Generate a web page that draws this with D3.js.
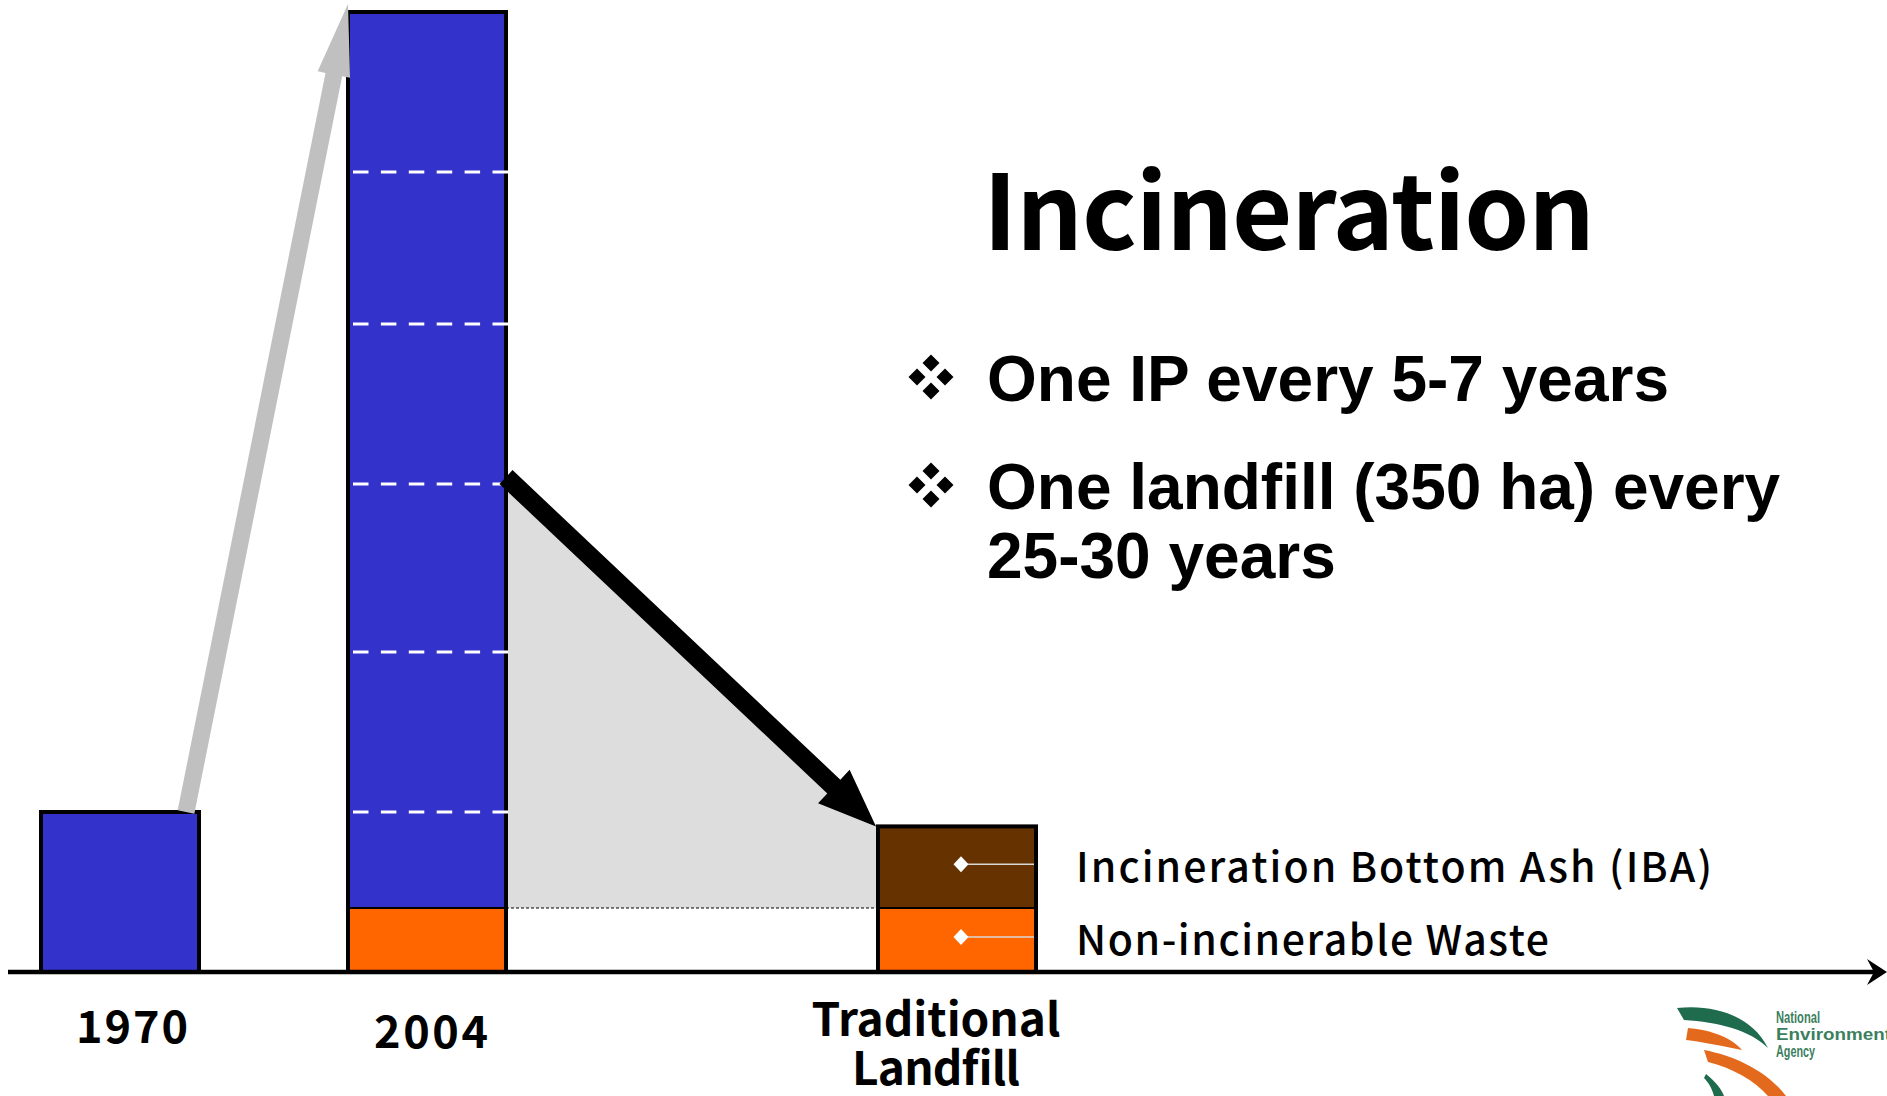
<!DOCTYPE html>
<html>
<head>
<meta charset="utf-8">
<script src="https://cdn.jsdelivr.net/npm/d3@7"></script>
<style>
  body { margin: 0; background: #fff; }
  svg { display: block; }
</style>
</head>
<body>
<div id="chart"></div>
<script>
// data (units: 1970 waste volume = 1)
var categories = ["1970", "2004", "Traditional Landfill"];
var incinerable = [1.0, 5.6, 0];
var nonIncinerable = [0, 0.4, 0.4];
var bottomAsh = [0, 0, 0.51];
var dividers = [1, 2, 3.05, 4.05, 5];   // dashed marks inside the 2004 bar
var legendLabels = ["Incineration Bottom Ash (IBA)", "Non-incinerable Waste"];
var titleText = "Incineration";
var bullets = [["One IP every 5-7 years"], ["One landfill (350 ha) every", "25-30 years"]];

var width = 1887, height = 1096;
var jp = "'Noto Sans CJK JP', 'Noto Sans', sans-serif";
var arial = "'Liberation Sans', Arial, sans-serif";
var colors = { incinerable: "#3333CC", nonIncinerable: "#FF6600", bottomAsh: "#663300" };
var keys = ["nonIncinerable", "bottomAsh", "incinerable"];

var rows = categories.map(function(c, i) {
  return { cat: c, nonIncinerable: nonIncinerable[i], bottomAsh: bottomAsh[i], incinerable: incinerable[i] };
});
var series = d3.stack().keys(keys)(rows);

var x = d3.scaleOrdinal().domain(categories).range([120, 427, 957]);
var y = d3.scaleLinear().domain([0, 6]).range([972, 12]);
var barW = 158;

var svg = d3.select("#chart").append("svg").attr("width", width).attr("height", height);

function total(i) { return d3.sum(keys, function(k) { return rows[i][k]; }); }
function left(c) { return x(c) - barW / 2; }
function right(c) { return x(c) + barW / 2; }

function arrowPath(x0, y0, x1, y1, shaft, headW, headL) {
  var dx = x1 - x0, dy = y1 - y0, L = Math.hypot(dx, dy);
  var ux = dx / L, uy = dy / L, px = -uy, py = ux;
  var bx = x1 - ux * headL, by = y1 - uy * headL, s = shaft / 2, h = headW / 2;
  var pts = [
    [x0 + px * s, y0 + py * s], [bx + px * s, by + py * s], [bx + px * h, by + py * h],
    [x1, y1],
    [bx - px * h, by - py * h], [bx - px * s, by - py * s], [x0 - px * s, y0 - py * s]
  ];
  return "M" + pts.map(function(p) { return p.join(","); }).join("L") + "Z";
}

// grey "reduction" wedge between 2004 and landfill
var c04 = categories[1], cLf = categories[2];
var wedge = [
  [right(c04), y(dividers[2])],
  [left(cLf), y(total(2))],
  [left(cLf), y(nonIncinerable[2])],
  [right(c04), y(nonIncinerable[1])]
];
svg.append("path").attr("d", d3.line()(wedge)).attr("fill", "#DDDDDD");

svg.append("line")
  .attr("x1", right(c04)).attr("x2", left(cLf))
  .attr("y1", y(nonIncinerable[1])).attr("y2", y(nonIncinerable[1]))
  .attr("stroke", "#000").attr("stroke-width", 1.2).attr("stroke-dasharray", "3,2");

// stacked segments
svg.append("g").selectAll("g")
  .data(series)
  .enter().append("g")
    .attr("fill", function(d) { return colors[d.key]; })
  .selectAll("rect")
  .data(function(d) { return d.filter(function(v) { return v[1] > v[0]; }); })
  .enter().append("rect")
    .attr("x", function(d) { return left(d.data.cat); })
    .attr("width", barW)
    .attr("y", function(d) { return y(d[1]); })
    .attr("height", function(d) { return y(d[0]) - y(d[1]); })
    .attr("stroke", "#000").attr("stroke-width", 2);

// outline of each bar
svg.append("g").selectAll("rect")
  .data(categories)
  .enter().append("rect")
    .attr("x", function(c) { return left(c); })
    .attr("width", barW)
    .attr("y", function(c, i) { return y(total(i)); })
    .attr("height", function(c, i) { return y(0) - y(total(i)); })
    .attr("fill", "none").attr("stroke", "#000").attr("stroke-width", 4);

// dashed white marks
svg.append("g").selectAll("line")
  .data(dividers)
  .enter().append("line")
    .attr("x1", left(c04) + 5).attr("x2", right(c04) + 2)
    .attr("y1", function(d) { return y(d); }).attr("y2", function(d) { return y(d); })
    .attr("stroke", "#fff").attr("stroke-width", 3).attr("stroke-dasharray", "15.5,12.4");

// grey growth arrow 1970 -> 2004
var c70 = categories[0];
svg.append("path")
  .attr("d", arrowPath(right(c70) - 13, y(total(0)), left(c04), y(total(1)) - 8, 17, 33, 72))
  .attr("fill", "#C0C0C0");

// black reduction arrow 2004 -> landfill
svg.append("path")
  .attr("d", arrowPath(right(c04), y(dividers[2]) - 7, left(cLf) - 2, y(total(2)), 19, 46, 58))
  .attr("fill", "#000");

// x axis with arrow
svg.append("line").attr("x1", 8).attr("x2", 1874).attr("y1", y(0)).attr("y2", y(0))
  .attr("stroke", "#000").attr("stroke-width", 4.5);
svg.append("path")
  .attr("d", "M1887," + y(0) + "L1867," + (y(0) - 13) + "L1874," + y(0) + "L1867," + (y(0) + 13) + "Z")
  .attr("fill", "#000");

// legend markers inside landfill bar
var legendY = [(y(nonIncinerable[2]) + y(total(2))) / 2 - 3, (y(0) + y(nonIncinerable[2])) / 2 - 3];
var lg = svg.append("g");
lg.selectAll("line").data(legendY).enter().append("line")
  .attr("x1", x(cLf) + 4).attr("x2", right(cLf) - 2)
  .attr("y1", function(d) { return d; }).attr("y2", function(d) { return d; })
  .attr("stroke", "#D8D8D8").attr("stroke-width", 1.5);
lg.selectAll("path").data(legendY).enter().append("path")
  .attr("d", function(d) {
    var cx = x(cLf) + 4;
    return "M" + cx + "," + (d - 8) + "L" + (cx + 7.5) + "," + d + "L" + cx + "," + (d + 8) + "L" + (cx - 7.5) + "," + d + "Z";
  })
  .attr("fill", "#fff");
lg.selectAll("text").data(legendLabels).enter().append("text")
  .attr("x", 1076)
  .attr("y", function(d, i) { return legendY[i] + 18; })
  .attr("font-family", jp).attr("font-size", 41).attr("font-weight", 500)
  .attr("textLength", function(d, i) { return [636, 473][i]; })
  .attr("lengthAdjust", "spacing")
  .text(function(d) { return d; });

// category labels
var labelDx = [12, 4, -21];
var labelLines = [["1970"], ["2004"], ["Traditional", "Landfill"]];
var labelY = [[1043], [1048], [1036], [1085]];
labelY = [[1043], [1048], [1036, 1085]];
var labelLen = [[112], [114], [249, 168]];
var labelSize = [45, 45, 46];
categories.forEach(function(c, i) {
  labelLines[i].forEach(function(t, j) {
    svg.append("text")
      .attr("x", x(c) + labelDx[i]).attr("y", labelY[i][j])
      .attr("text-anchor", "middle")
      .attr("font-family", jp).attr("font-size", labelSize[i]).attr("font-weight", 700)
      .attr("textLength", labelLen[i][j]).attr("lengthAdjust", "spacing")
      .text(t);
  });
});

// title
svg.append("text")
  .attr("x", 983).attr("y", 250)
  .attr("font-family", jp).attr("font-size", 104).attr("font-weight", 700)
  .attr("textLength", 612).attr("lengthAdjust", "spacing")
  .text(titleText);

// bullets
var bulletBase = [401, 509];
var lineGap = 69;
bullets.forEach(function(lines, i) {
  var cx = 931, cy = bulletBase[i] - 24;
  var g = svg.append("g");
  [[0, -14], [14, 0], [0, 14], [-14, 0]].forEach(function(o) {
    var px = cx + o[0], py = cy + o[1], r = 8.5;
    g.append("path")
      .attr("d", "M" + px + "," + (py - r) + "L" + (px + r) + "," + py + "L" + px + "," + (py + r) + "L" + (px - r) + "," + py + "Z")
      .attr("fill", "#000");
  });
  lines.forEach(function(t, j) {
    svg.append("text")
      .attr("x", 987).attr("y", bulletBase[i] + j * lineGap)
      .attr("font-family", arial).attr("font-size", 64).attr("font-weight", 700)
      .text(t);
  });
});

// agency logo (approximation)
var logo = svg.append("g");
logo.append("path")
  .attr("d", "M1677,1008 C1715,1004 1752,1016 1768,1048 C1750,1030 1718,1022 1684,1020 Z")
  .attr("fill", "#1E6B4E");
logo.append("path")
  .attr("d", "M1688,1028 C1712,1030 1732,1038 1742,1050 C1722,1046 1702,1042 1686,1040 Z")
  .attr("fill", "#E36A1C");
logo.append("path")
  .attr("d", "M1704,1050 C1736,1056 1768,1072 1786,1096 L1768,1096 C1754,1080 1732,1068 1708,1062 Z")
  .attr("fill", "#E36A1C");
logo.append("path")
  .attr("d", "M1706,1074 C1716,1082 1722,1090 1724,1096 L1714,1096 C1712,1088 1708,1082 1704,1078 Z")
  .attr("fill", "#1E6B4E");
[["National", 1023, 44], ["Environment", 1040, 115], ["Agency", 1057, 39]].forEach(function(t) {
  logo.append("text")
    .attr("x", 1776).attr("y", t[1])
    .attr("font-family", arial).attr("font-size", 17).attr("font-weight", 700)
    .attr("fill", "#3C7F5E")
    .attr("textLength", t[2]).attr("lengthAdjust", "spacingAndGlyphs")
    .text(t[0]);
});
</script>
</body>
</html>
